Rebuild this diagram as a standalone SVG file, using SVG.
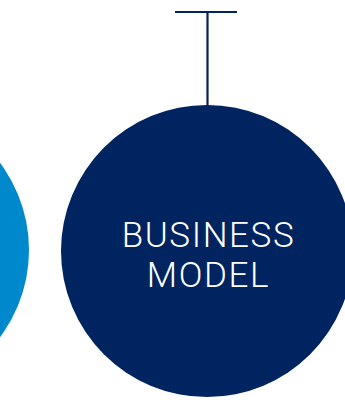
<svg xmlns="http://www.w3.org/2000/svg" width="345" height="400" viewBox="0 0 345 400">
<style>
.lbl{font-family:Roboto,"Liberation Sans",sans-serif;font-size:35px;font-weight:300;fill:#ffffff;text-anchor:middle;letter-spacing:1.6px}
.conn{stroke:#00245f;stroke-width:2.2;fill:none}
</style>
<rect width="345" height="400" fill="#ffffff"/>
<g id="node-left">
<circle cx="-117" cy="250" r="146" fill="#0088cc"/>
</g>
<g id="node-business-model">
<circle cx="207" cy="251" r="146" fill="#00245f"/>
<text class="lbl" x="208.5" y="247">BUSINESS</text>
<text class="lbl" x="208.5" y="287">MODEL</text>
</g>
<g id="connectors">
<path class="conn" d="M175 12H237M207.5 12V105"/>
</g>
</svg>
